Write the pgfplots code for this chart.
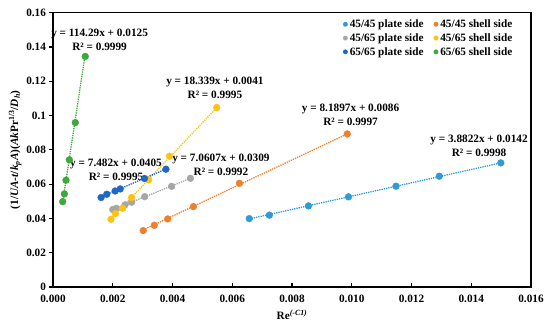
\documentclass[border=0pt]{standalone}
\usepackage{pgfplots}
\pgfplotsset{compat=1.18}
\usepackage{fontspec}
\setmainfont{Liberation Serif}
\definecolor{cLB}{HTML}{2E9BD8}
\definecolor{cOR}{HTML}{F07F2B}
\definecolor{cGR}{HTML}{A6A6A6}
\definecolor{cYE}{HTML}{FFC20E}
\definecolor{cDB}{HTML}{1F67C4}
\definecolor{cGN}{HTML}{3BAA3A}
\newcommand{\ff}{\fontsize{11.3}{14}\selectfont\bfseries}
\begin{document}
\begin{tikzpicture}
\begin{axis}[
  scale only axis, width=478bp, height=274.3bp,
  xmin=0, xmax=0.016, ymin=0, ymax=0.16,
  xtick={0,0.002,0.004,0.006,0.008,0.010,0.012,0.014,0.016},
  xticklabels={0.000,0.002,0.004,0.006,0.008,0.010,0.012,0.014,0.016},
  ytick={0,0.02,0.04,0.06,0.08,0.1,0.12,0.14,0.16},
  yticklabels={0,0.02,0.04,0.06,0.08,0.1,0.12,0.14,0.16},
  scaled ticks=false,
  axis line style={line width=1.6bp},
  tick align=outside, major tick length=3.5bp,
  tick style={line width=1.1bp, black},
  xtick style={yshift=3.5bp},
  xtick pos=bottom, ytick pos=left,
  every tick label/.append style={font=\ff},
  xticklabel style={yshift=-1bp},
  xlabel={Re\textsuperscript{\textit{(-C1)}}},
  ylabel={(1/\textit{UA}-\textit{t}/\textit{k}\textsubscript{\textit{p}}\textit{A})(\textit{Ak}Pr\textsuperscript{1/3}/\textit{D}\textsubscript{\textit{h}})},
  label style={font=\ff},
  xlabel style={yshift=-1bp},
  ylabel style={yshift=-2bp},
  legend columns=2,
  legend cell align=left,
  legend style={draw=none, fill=none, at={(0.6,0.99)}, anchor=north west,
    font=\ff, row sep=0.5bp, /tikz/every even column/.append style={column sep=8bp}},
  legend image code/.code={\fill[#1] (0.1cm,0cm) circle (2.2bp);},
  clip=false,
]
% trendlines
\addplot[forget plot, cLB, densely dotted, line width=1.3bp] coordinates {(0.00657,0.03971) (0.01499,0.07239)};
\addplot[forget plot, cOR, densely dotted, line width=1.3bp] coordinates {(0.00302,0.03333) (0.00985,0.08927)};
\addplot[forget plot, cGR, densely dotted, line width=1.3bp] coordinates {(0.00200,0.04502) (0.00460,0.06338)};
\addplot[forget plot, cYE, densely dotted, line width=1.3bp] coordinates {(0.00194,0.03968) (0.00548,0.10460)};
\addplot[forget plot, cDB, densely dotted, line width=1.3bp] coordinates {(0.00161,0.05255) (0.00378,0.06878)};
\addplot[forget plot, cGN, densely dotted, line width=1.3bp] coordinates {(0.000324,0.04953) (0.00108,0.13593)};
% data
\addplot[only marks, mark=*, color=cLB, mark size=3.4bp] coordinates {
(0.00657,0.0399) (0.00724,0.0419) (0.00855,0.0473) (0.00989,0.0526) (0.01148,0.0588) (0.01293,0.0646) (0.01499,0.0724)};
\addlegendentry{45/45 plate side}
\addplot[only marks, mark=*, color=cOR, mark size=3.4bp] coordinates {
(0.00302,0.0329) (0.00339,0.0360) (0.00384,0.0397) (0.00470,0.0469) (0.00624,0.0605) (0.00985,0.0893)};
\addlegendentry{45/45 shell side}
\addplot[only marks, mark=*, color=cGR, mark size=3.4bp] coordinates {
(0.00200,0.0452) (0.00212,0.0459) (0.00241,0.0479) (0.00263,0.0494) (0.00307,0.0527) (0.00397,0.0587) (0.00460,0.0634)};
\addlegendentry{45/65 plate side}
\addplot[only marks, mark=*, color=cYE, mark size=3.4bp] coordinates {
(0.00194,0.0395) (0.00209,0.0428) (0.00233,0.0459) (0.00263,0.0522) (0.00320,0.0625) (0.00390,0.0763) (0.00548,0.1047)};
\addlegendentry{45/65 shell side}
\addplot[only marks, mark=*, color=cDB, mark size=3.4bp] coordinates {
(0.00161,0.0522) (0.00180,0.0541) (0.00208,0.0560) (0.00225,0.0572) (0.00306,0.0633) (0.00378,0.0687)};
\addlegendentry{65/65 plate side}
\addplot[only marks, mark=*, color=cGN, mark size=3.4bp] coordinates {
(0.000324,0.0498) (0.00038,0.0543) (0.000435,0.0623) (0.000547,0.0742) (0.000747,0.0959) (0.00108,0.1345)};
\addlegendentry{65/65 shell side}
% trendline labels
\node[align=center, font=\ff, inner sep=0pt] at (axis cs:0.00156,0.1442) {y = 114.29x + 0.0125\\R² = 0.9999};
\node[align=center, font=\ff, inner sep=0pt] at (axis cs:0.00542,0.1159) {y = 18.339x + 0.0041\\R² = 0.9995};
\node[align=center, font=\ff, inner sep=0pt] at (axis cs:0.00996,0.1004) {y = 8.1897x + 0.0086\\R² = 0.9997};
\node[align=center, font=\ff, inner sep=0pt] at (axis cs:0.00562,0.0712) {y = 7.0607x + 0.0309\\R² = 0.9992};
\node[align=center, font=\ff, inner sep=0pt] at (axis cs:0.00211,0.0686) {y = 7.482x + 0.0405\\R² = 0.9995};
\node[align=center, font=\ff, inner sep=0pt] at (axis cs:0.01426,0.0826) {y = 3.8822x + 0.0142\\R² = 0.9998};
\end{axis}
\path (current axis.south west) ++(-53bp,-38bp) coordinate (bl);
\path (current axis.north east) ++(19bp,12.7bp) coordinate (tr);
\pgfresetboundingbox
\useasboundingbox (bl) rectangle (tr);
\end{tikzpicture}
\end{document}
